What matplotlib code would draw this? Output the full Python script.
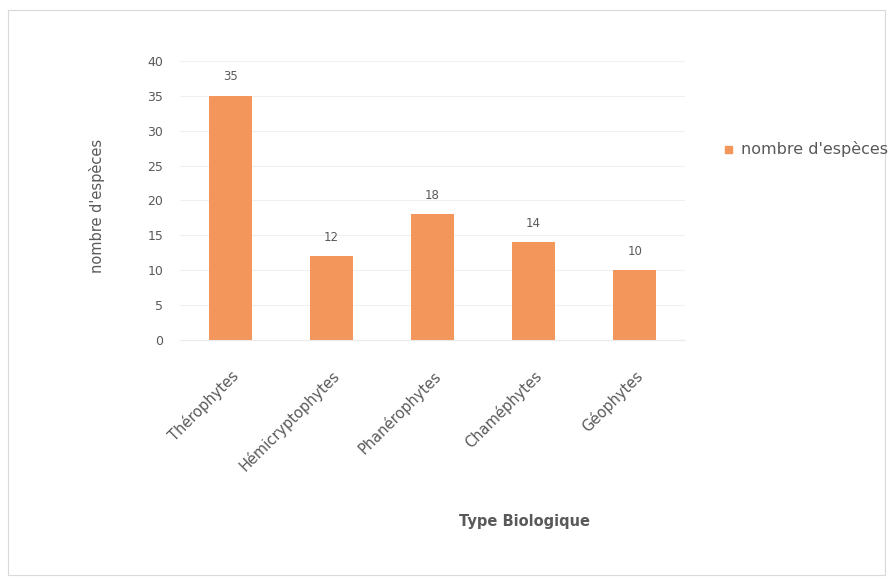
import matplotlib
matplotlib.use("Agg")
import matplotlib.pyplot as plt
from matplotlib.patches import Rectangle

types = ["Thérophytes", "Hémicryptophytes", "Phanérophytes", "Chaméphytes", "Géophytes"]
counts = [35, 12, 18, 14, 10]
y_ticks = [0, 5, 10, 15, 20, 25, 30, 35, 40]

bar_color = "#F2965B"
text_color = "#595959"
plt.rcParams["font.family"] = ["DejaVu Sans"]

fig = plt.figure(figsize=(8.91, 5.81), dpi=100)
fig.patches.append(Rectangle((0.009, 0.01), 0.984, 0.972, transform=fig.transFigure,
                             fill=False, edgecolor="#D9D9D9", linewidth=0.8))

ax = fig.add_axes([0.202, 0.415, 0.567, 0.48])
x = range(len(types))
bars = ax.bar(x, counts, width=0.42, color=bar_color, zorder=2)
for rect, v in zip(bars, counts):
    ax.annotate(str(v), (rect.get_x() + rect.get_width() / 2, v),
                xytext=(0, 9), textcoords="offset points",
                ha="center", va="bottom", fontsize=8.5, color=text_color)

ax.set_xlim(-0.5, len(types) - 0.5)
ax.set_ylim(0, 40)
ax.set_yticks(y_ticks)
ax.yaxis.grid(True, color="#F0F0F0", linewidth=0.8, zorder=0)
ax.set_xticks(list(x))
ax.set_xticklabels(types, rotation=45, ha="right", rotation_mode="anchor",
                   fontsize=10.5, color=text_color)
ax.tick_params(axis="y", labelsize=9, colors=text_color, length=0, pad=12)
ax.tick_params(axis="x", length=0, pad=20)
for side in ["top", "right", "left"]:
    ax.spines[side].set_visible(False)
ax.spines["bottom"].set_color("#EAEAEA")

fig.text(0.109, 0.645, "nombre d'espèces", rotation=90, ha="center", va="center",
         fontsize=10.5, color=text_color)
fig.text(0.589, 0.103, "Type Biologique", ha="center", va="center",
         fontsize=10.5, fontweight="bold", color=text_color)

# legend drawn in figure space so its text runs past the right edge
fig.patches.append(Rectangle((0.814, 0.737), 0.008, 0.012, transform=fig.transFigure,
                             color=bar_color))
fig.text(0.832, 0.743, "nombre d'espèces", ha="left", va="center",
         fontsize=11.5, color=text_color)

fig.savefig("out.png", dpi=100)
